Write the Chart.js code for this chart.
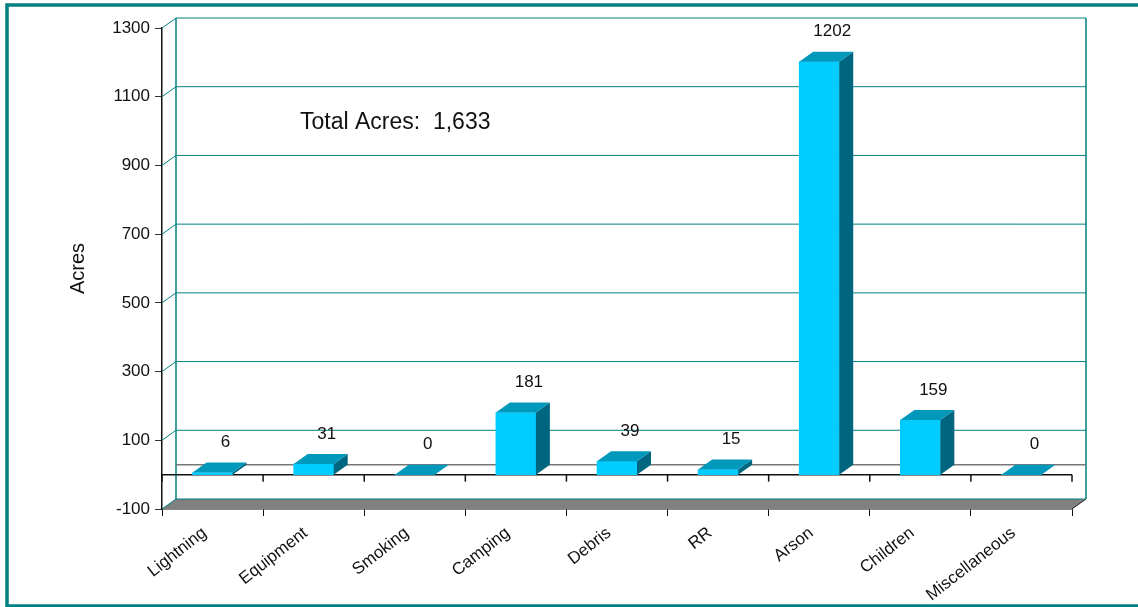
<!DOCTYPE html>
<html>
<head>
<meta charset="utf-8">
<script src="https://cdn.jsdelivr.net/npm/chart.js@4"></script>
<style>
  html, body { margin: 0; padding: 0; background: #fff; }
  #wrap { width: 1138px; height: 607px; position: relative; }
</style>
</head>
<body>
<div id="wrap"><canvas id="chart"></canvas></div>
<script>
// ---------- DATA ----------
const causes = ['Lightning', 'Equipment', 'Smoking', 'Camping', 'Debris', 'RR', 'Arson', 'Children', 'Miscellaneous'];
const acres = [6, 31, 0, 181, 39, 15, 1202, 159, 0];
const yTickValues = [-100, 100, 300, 500, 700, 900, 1100, 1300];
const yTitle = 'Acres';
const totalText = 'Total Acres:  1,633';

// ---------- STYLE ----------
const FONT = "'Liberation Sans', Arial, sans-serif";
const TEAL = '#008080';
const FACE = '#00ccff', TOP = '#0099bb', SIDE = '#006680';
const DX = 14, DY = -10; // fake 3D depth

function line(ctx, x1, y1, x2, y2) {
  ctx.beginPath(); ctx.moveTo(x1, y1); ctx.lineTo(x2, y2); ctx.stroke();
}
function poly(ctx, pts, color) {
  ctx.fillStyle = color;
  ctx.beginPath();
  pts.forEach((p, i) => i ? ctx.lineTo(p[0], p[1]) : ctx.moveTo(p[0], p[1]));
  ctx.closePath(); ctx.fill();
}

// draws walls, floor, bar sides/tops and value labels
const box3d = {
  id: 'box3d',
  beforeDatasetsDraw(chart) {
    const { ctx, chartArea: a, scales: { y } } = chart;
    const z0 = y.getPixelForValue(0);
    ctx.save();

    // floor slab
    poly(ctx, [[a.left, a.bottom], [a.left + DX, a.bottom + DY], [a.right + DX, a.bottom + DY], [a.right, a.bottom]], '#808080');
    ctx.strokeStyle = '#222'; ctx.lineWidth = 1;
    line(ctx, a.right, a.bottom, a.right + DX, a.bottom + DY);

    // side wall diagonals + back wall gridlines
    ctx.strokeStyle = TEAL; ctx.lineWidth = 1;
    yTickValues.forEach(v => {
      const py = y.getPixelForValue(v);
      line(ctx, a.left, py, a.left + DX, py + DY);
      line(ctx, a.left + DX, py + DY, a.right + DX, py + DY);
    });
    ctx.lineWidth = 1.5;
    line(ctx, a.left + DX, a.top + DY, a.left + DX, a.bottom + DY);
    line(ctx, a.right + DX, a.top + DY, a.right + DX, a.bottom + DY);

    // zero plane: back edge gray, front edge black with ticks
    ctx.strokeStyle = '#777'; ctx.lineWidth = 1.5;
    line(ctx, a.left + DX, z0 + DY, a.right + DX, z0 + DY);
    ctx.strokeStyle = '#111';
    line(ctx, a.left, z0, a.right, z0);
    const n = causes.length, step = (a.right - a.left) / n;
    for (let i = 0; i <= n; i++) line(ctx, a.left + i * step, z0, a.left + i * step, z0 + 7);

    // total annotation
    ctx.fillStyle = '#111';
    ctx.font = '23px ' + FONT;
    ctx.textAlign = 'left'; ctx.textBaseline = 'middle';
    ctx.fillText(totalText, a.left + 138, a.top + 95);
    ctx.restore();
  },
  afterDatasetsDraw(chart) {
    const { ctx } = chart;
    const meta = chart.getDatasetMeta(0);
    ctx.save();
    meta.data.forEach((bar, i) => {
      const l = bar.x - bar.width / 2, r = bar.x + bar.width / 2, t = bar.y, b = bar.base;
      poly(ctx, [[r, t], [r + DX, t + DY], [r + DX, b + DY], [r, b]], SIDE);
      poly(ctx, [[l, t], [l + DX, t + DY], [r + DX, t + DY], [r, t]], TOP);
      ctx.fillStyle = '#111';
      ctx.font = '17px ' + FONT;
      ctx.textAlign = 'center'; ctx.textBaseline = 'middle';
      ctx.fillText(String(acres[i]), bar.x + 13, t - 30);
    });
    ctx.restore();
  },
  afterDraw(chart) {
    const { ctx } = chart;
    ctx.save();
    ctx.strokeStyle = TEAL; ctx.lineWidth = 3.5;
    ctx.strokeRect(7, 5, 1200, 601);
    ctx.restore();
  }
};

new Chart(document.getElementById('chart'), {
  type: 'bar',
  data: {
    labels: causes,
    datasets: [{ data: acres, backgroundColor: FACE, borderWidth: 0, barThickness: 40 }]
  },
  options: {
    responsive: true,
    maintainAspectRatio: false,
    animation: false,
    layout: { padding: { top: 28, right: 66, bottom: 0, left: 0 } },
    plugins: { legend: { display: false }, tooltip: { enabled: false } },
    scales: {
      y: {
        min: -100, max: 1300,
        afterBuildTicks: s => { s.ticks = yTickValues.map(v => ({ value: v })); },
        afterFit: s => { s.width = 162; },
        grid: { drawOnChartArea: false, drawTicks: true, tickLength: 7, color: '#333' },
        border: { display: true, color: '#111', width: 1.5 },
        ticks: { color: '#111', padding: 5, font: { family: FONT, size: 17 }, callback: v => String(v) },
        title: { display: true, text: yTitle, color: '#111', padding: { top: 66, bottom: 0 }, font: { family: FONT, size: 20 } }
      },
      x: {
        afterFit: s => { s.height = 98; },
        grid: { drawOnChartArea: false, drawTicks: true, tickLength: 7, color: '#111', offset: true },
        border: { display: true, color: '#111', width: 1.5 },
        ticks: { color: '#111', autoSkip: false, minRotation: 38, maxRotation: 38, padding: 7, labelOffset: -8, font: { family: FONT, size: 17 } }
      }
    }
  },
  plugins: [box3d]
});
</script>
</body>
</html>
